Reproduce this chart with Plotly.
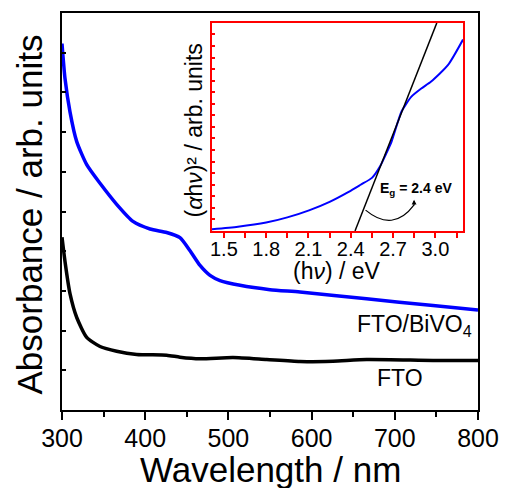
import plotly.graph_objects as go

# ---- main spectra (wavelength nm, absorbance arb.) ----
wl_bivo4 = [300, 303.6, 309.6, 317.7, 329.7, 345.7, 365.7, 385.3, 405.8, 425.8, 441.8, 453.9,
            465.9, 477.9, 489.9, 514, 550, 586, 666, 746, 800]
abs_bivo4 = [0.923, 0.835, 0.751, 0.676, 0.618, 0.571, 0.518, 0.475, 0.456, 0.447, 0.434, 0.401,
             0.364, 0.339, 0.326, 0.314, 0.303, 0.297, 0.280, 0.263, 0.252]

wl_fto = [300, 303.6, 309.6, 317.7, 329.7, 345.7, 365.7, 389.8, 425.8, 441.8, 465.9, 505.5,
          546, 586, 625.7, 666.2, 746, 800]
abs_fto = [0.435, 0.374, 0.293, 0.233, 0.183, 0.160, 0.148, 0.140, 0.138, 0.133, 0.129, 0.132,
           0.127, 0.122, 0.123, 0.127, 0.125, 0.125]

# ---- inset Tauc plot ----
ev = [1.416, 1.6, 1.80, 1.95, 2.104, 2.25, 2.385, 2.47, 2.55, 2.608, 2.65, 2.69, 2.76, 2.83,
      2.90, 2.97, 3.09, 3.196]
tauc = [0.008, 0.02, 0.04, 0.065, 0.099, 0.14, 0.188, 0.222, 0.255, 0.311, 0.37, 0.431, 0.574,
        0.646, 0.685, 0.718, 0.798, 0.92]
fit_ev = [2.43, 3.01]
fit_val = [0.0, 1.0]

x_ticks = [300, 400, 500, 600, 700, 800]
inset_ticks = [1.5, 1.8, 2.1, 2.4, 2.7, 3.0]
inset_tick_text = ["1.5", "1.8", "2.1", "2.4", "2.7", "3.0"]

FONT = "Liberation Sans, Arial, sans-serif"
RED = "#ff0000"

fig = go.Figure()
fig.add_trace(go.Scatter(x=wl_bivo4, y=abs_bivo4, mode="lines", line=dict(color="#0000ff", width=3.5, shape="spline", smoothing=0.6), showlegend=False))
fig.add_trace(go.Scatter(x=wl_fto, y=abs_fto, mode="lines", line=dict(color="black", width=3.5, shape="spline", smoothing=0.6), showlegend=False))
fig.add_trace(go.Scatter(x=ev, y=tauc, mode="lines", line=dict(color="#0000ff", width=2, shape="spline", smoothing=0.6), xaxis="x2", yaxis="y2", showlegend=False))
fig.add_trace(go.Scatter(x=fit_ev, y=fit_val, mode="lines", line=dict(color="black", width=1.5), xaxis="x2", yaxis="y2", showlegend=False))

fig.update_layout(
    width=510, height=488,
    margin=dict(l=62, r=32, t=11, b=78),
    paper_bgcolor="white", plot_bgcolor="white",
    font=dict(family=FONT, color="black"),
    xaxis=dict(range=[300, 800], tickvals=x_ticks, ticks="outside", ticklen=8, tickwidth=2,
               tickcolor="black", minor=dict(dtick=50, tick0=300, ticks="outside", ticklen=5, tickwidth=2, tickcolor="black"),
               showline=True, linecolor="black", linewidth=2, mirror=True, showgrid=False, zeroline=False,
               tickfont=dict(size=25, family=FONT), ticklabelstandoff=-3),
    yaxis=dict(range=[0, 1], dtick=0.1, ticks="inside", ticklen=4, tickwidth=1.5, tickcolor="black",
               showticklabels=False, showline=True, linecolor="black", linewidth=2, mirror=True,
               showgrid=False, zeroline=False),
    xaxis2=dict(domain=[0.3606, 0.964], anchor="y2", range=[1.416, 3.196], tickvals=inset_ticks,
                ticktext=inset_tick_text,
                ticks="outside", ticklen=5, tickwidth=1.5, tickcolor=RED,
                minor=dict(dtick=0.15, tick0=1.5, ticks="outside", ticklen=5, tickwidth=1.5, tickcolor=RED),
                showline=True, linecolor=RED, linewidth=2, mirror=True, showgrid=False, zeroline=False,
                tickfont=dict(size=20, family=FONT), ticklabelstandoff=-6),
    yaxis2=dict(domain=[0.4511, 0.975], anchor="x2", range=[0, 1], dtick=1/18, tick0=0,
                ticks="inside", ticklen=3, tickwidth=1.5, tickcolor=RED, showticklabels=False,
                showline=True, linecolor=RED, linewidth=2, mirror=True, showgrid=False, zeroline=False),
)

ann = [
    dict(text="Wavelength / nm", x=0.502, y=-0.150, xref="paper", yref="paper", showarrow=False,
         font=dict(size=35), xanchor="center", yanchor="middle"),
    dict(text="Absorbance / arb. units", x=-0.0793, y=0.4925, xref="paper", yref="paper", showarrow=False,
         font=dict(size=35), textangle=-90, xanchor="center", yanchor="middle"),
    dict(text="(<i>α</i>h<i>ν</i>)² / arb. units", x=0.317, y=0.704, xref="paper", yref="paper", showarrow=False,
         font=dict(size=23), textangle=-90, xanchor="center", yanchor="middle"),
    dict(text="(h<i>ν</i>) / eV", x=0.661, y=0.349, xref="paper", yref="paper", showarrow=False,
         font=dict(size=23), xanchor="center", yanchor="middle"),
    dict(text="FTO/BiVO<sub>4</sub>", x=724, y=0.213, xref="x", yref="y", showarrow=False,
         font=dict(size=23), xanchor="center", yanchor="middle"),
    dict(text="FTO", x=706, y=0.080, xref="x", yref="y", showarrow=False,
         font=dict(size=23), xanchor="center", yanchor="middle"),
    dict(text="<b>E<sub>g</sub> = 2.4 eV</b>", x=2.86, y=0.20, xref="x2", yref="y2", showarrow=False,
         font=dict(size=14), xanchor="center", yanchor="middle"),
    dict(text="", x=2.849, y=0.15, xref="x2", yref="y2", showarrow=True, ax=0, ay=7,
         arrowhead=2, arrowsize=0.8, arrowwidth=1.2, arrowcolor="black"),
]
fig.update_layout(annotations=ann)

fig.add_shape(type="path", path="M 2.505 0.100 Q 2.70 -0.01 2.849 0.125", xref="x2", yref="y2",
              line=dict(color="black", width=1.2))

fig.write_html("out.html", config={"displayModeBar": False},
               post_script="document.body.style.margin='0';document.body.style.padding='0';")
